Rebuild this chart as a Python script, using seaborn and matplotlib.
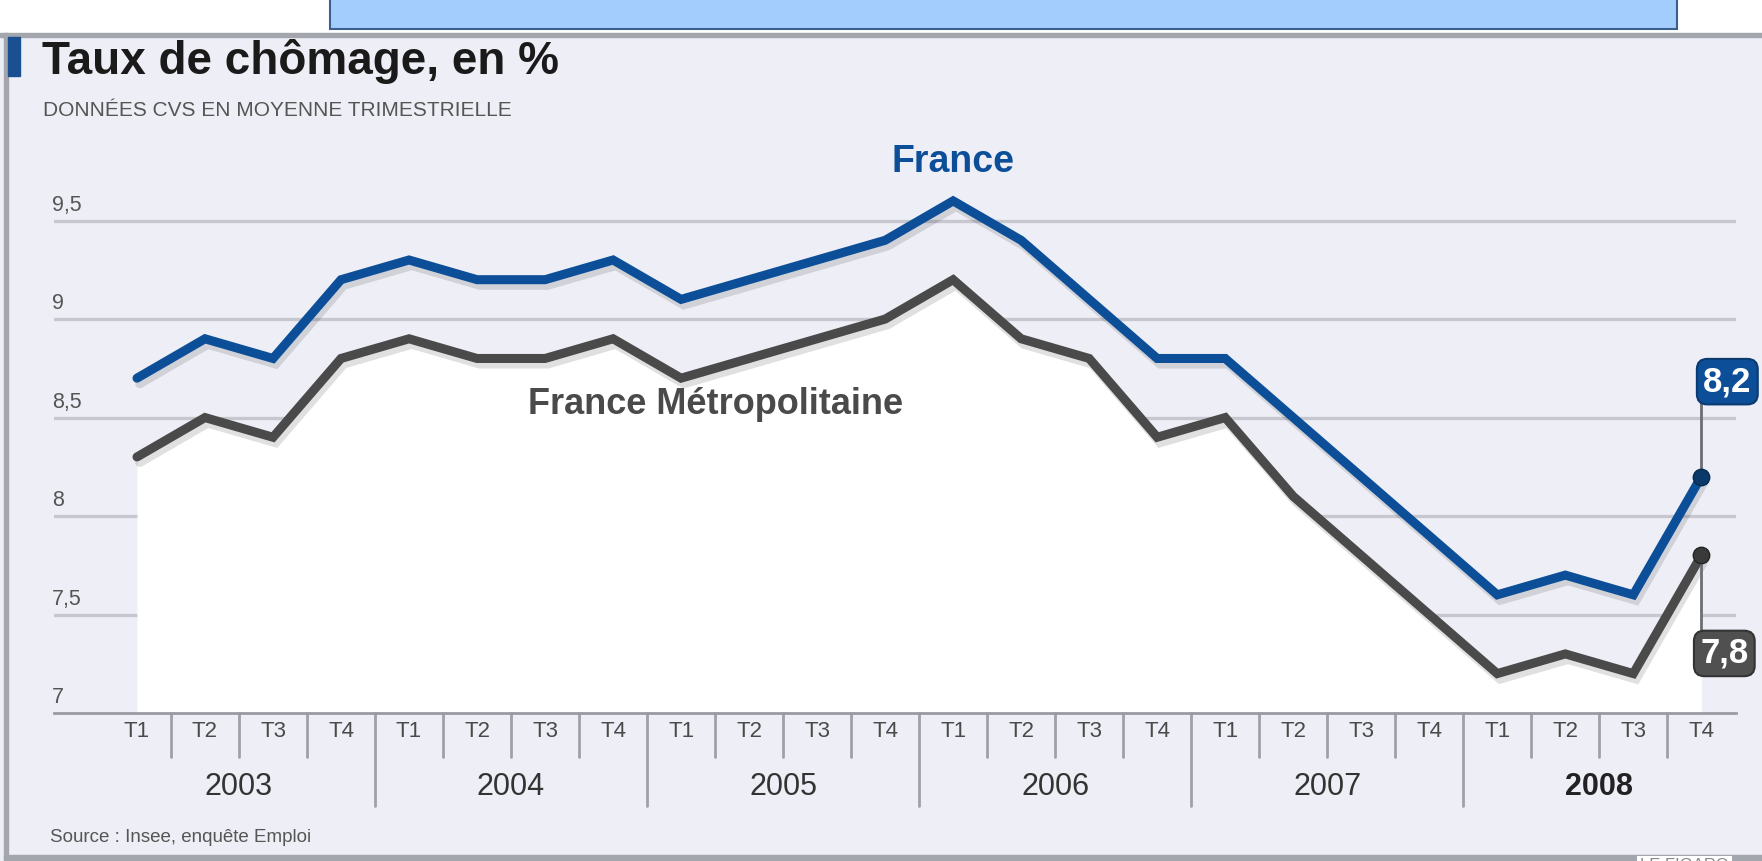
import matplotlib
matplotlib.use("Agg")
import matplotlib.pyplot as plt
import matplotlib.patheffects as pe
from matplotlib.patches import Rectangle
import seaborn as sns
import pandas as pd

# Taux de chomage trimestriel (INSEE), 2003 T1 -> 2008 T4
years = ["2003", "2004", "2005", "2006", "2007", "2008"]
quarters = ["T1", "T2", "T3", "T4"]
france = [8.7, 8.9, 8.8, 9.2, 9.3, 9.2, 9.2, 9.3, 9.1, 9.2, 9.3, 9.4,
          9.6, 9.4, 9.1, 8.8, 8.8, 8.5, 8.2, 7.9, 7.6, 7.7, 7.6, 8.2]
metropole = [8.3, 8.5, 8.4, 8.8, 8.9, 8.8, 8.8, 8.9, 8.7, 8.8, 8.9, 9.0,
             9.2, 8.9, 8.8, 8.4, 8.5, 8.1, 7.8, 7.5, 7.2, 7.3, 7.2, 7.8]
y_ticks = [7, 7.5, 8, 8.5, 9, 9.5]
y_labels = ["7", "7,5", "8", "8,5", "9", "9,5"]

BLUE = "#0c4f98"
GREY = "#4a4a4a"
PANEL = "#eeeff6"
NARROW = ["Liberation Sans Narrow", "Liberation Sans", "DejaVu Sans"]

W, H = 1762, 861

def fx(px):
    return px / W

def fy(py):
    return 1 - py / H

n = len(france)
df = pd.DataFrame({
    "idx": list(range(n)) * 2,
    "taux": france + metropole,
    "serie": ["France"] * n + ["France Métropolitaine"] * n,
})

sns.set_style("white")
plt.rcParams["font.family"] = ["Liberation Sans", "DejaVu Sans"]

fig = plt.figure(figsize=(W / 100, H / 100), dpi=100, facecolor=PANEL)

# page furniture: white strip on top, blue bar, grey frame, blue tab
fig.add_artist(Rectangle((0, fy(33)), 1, 1 - fy(33), transform=fig.transFigure, color="white", zorder=0))
fig.add_artist(Rectangle((fx(330), fy(29)), fx(1677 - 330), 1 - fy(29) + 0.01, transform=fig.transFigure,
                         facecolor="#a3cdfc", edgecolor="#3d5f8f", lw=1.5, zorder=1))
fig.add_artist(Rectangle((0, fy(37)), 1, fy(33) - fy(37), transform=fig.transFigure, color="#a4a6ad", zorder=1))
fig.add_artist(Rectangle((fx(4), fy(858)), fx(4), fy(33) - fy(858), transform=fig.transFigure, color="#a4a6ad", zorder=1))
fig.add_artist(Rectangle((fx(4), fy(861)), 1, fy(855) - fy(861), transform=fig.transFigure, color="#a4a6ad", zorder=1))
fig.add_artist(Rectangle((fx(8), fy(76)), fx(12), fy(37) - fy(76), transform=fig.transFigure, color="#1a4f90", zorder=2))

ax = fig.add_axes([fx(54), fy(713), fx(1736 - 54), fy(130) - fy(713)])
ax.set_facecolor("none")

ax.fill_between(range(n), metropole, 7, color="white", zorder=1, lw=0)

sns.lineplot(data=df, x="idx", y="taux", hue="serie", palette={"France": BLUE, "France Métropolitaine": GREY},
             linewidth=6.5, legend=False, ax=ax, zorder=3)
for line in ax.lines:
    line.set_solid_joinstyle("miter")
    line.set_path_effects([pe.SimpleLineShadow(offset=(2, -4), shadow_color="k", alpha=0.12), pe.Normal()])
ax.set_xlabel("")
ax.set_ylabel("")

# last points
ax.scatter([n - 1], [france[-1]], s=140, color="#0a3868", edgecolor="#062a50", zorder=5)
ax.scatter([n - 1], [metropole[-1]], s=140, color="#3a3a3a", edgecolor="#222222", zorder=5)

ax.set_xlim(-1.22, 23.51)
ax.set_ylim(7, 9.96)
ax.set_yticks(y_ticks[1:])
ax.set_yticklabels([])
ax.set_xticks([])
ax.yaxis.grid(True, color="#c6c7cf", lw=2.4)
ax.set_axisbelow(True)
ax.tick_params(length=0)
for s in ["top", "right", "left"]:
    ax.spines[s].set_visible(False)
ax.spines["bottom"].set_color("#9a9ba2")
ax.spines["bottom"].set_linewidth(2)

for v, lab in zip(y_ticks, y_labels):
    ax.annotate(lab, xy=(0, v), xycoords=ax.get_yaxis_transform(), xytext=(-2, 5), textcoords="offset pixels",
                ha="left", va="bottom", fontsize=15.5, color="#555555")

# quarter and year labels under the axis
xt = ax.get_xaxis_transform()
for i in range(n):
    ax.text(i, -0.032, quarters[i % 4], transform=xt, ha="center", va="center", fontsize=16, color="#4a4a4a")
    if i < n - 1:
        low = -0.16 if i % 4 == 3 else -0.075
        ax.plot([i + 0.5, i + 0.5], [0, low], transform=xt, color="#a0a1a8", lw=2, clip_on=False)
for k, yr in enumerate(years):
    ax.text(4 * k + 1.5, -0.127, yr, transform=xt, ha="center", va="center", fontsize=22,
            color="#222222" if yr == "2008" else "#333333", fontweight="bold" if yr == "2008" else "normal")

# series labels
ax.text(12, 9.8, "France", ha="center", va="center", fontsize=27, fontweight="bold", color=BLUE, family=NARROW)
ax.text(8.5, 8.565, "France Métropolitaine", ha="center", va="center", fontsize=26, fontweight="bold",
        color=GREY, family=NARROW)

# value boxes for the last quarter
ax.vlines(n - 1, france[-1], france[-1] + 0.4, color="#6d6e74", lw=2, zorder=4)
ax.vlines(n - 1, metropole[-1] - 0.4, metropole[-1], color="#6d6e74", lw=2, zorder=4)
ax.annotate("8,2", xy=(n - 1, france[-1]), xytext=(26, 95), textcoords="offset pixels", ha="center", va="center",
            fontsize=25, fontweight="bold", color="white", family=NARROW, zorder=6,
            bbox=dict(boxstyle="round,pad=0.18,rounding_size=0.3", fc=BLUE, ec="#0a3a70", lw=1.5))
ax.annotate("7,8", xy=(n - 1, metropole[-1]), xytext=(23, -98), textcoords="offset pixels", ha="center",
            va="center", fontsize=25, fontweight="bold", color="white", family=NARROW, zorder=6,
            bbox=dict(boxstyle="round,pad=0.18,rounding_size=0.3", fc="#505050", ec="#333333", lw=1.5))

# titles
fig.text(fx(42), fy(62), "Taux de chômage, en %", fontsize=33, fontweight="bold", color="#1a1a1a",
         va="center", ha="left", family=NARROW)
fig.text(fx(43), fy(110), "DONNÉES CVS EN MOYENNE TRIMESTRIELLE", fontsize=15, color="#555555",
         va="center", ha="left", family=NARROW)
fig.text(fx(50), fy(837), "Source : Insee, enquête Emploi", fontsize=13.5, color="#555555",
         va="center", ha="left")
fig.text(fx(1640), fy(866), "LE FIGARO", fontsize=12, color="#888888", va="center", ha="left",
         family=NARROW, bbox=dict(fc="white", ec="none", pad=2))

fig.savefig("out.png", dpi=100, facecolor=PANEL)
